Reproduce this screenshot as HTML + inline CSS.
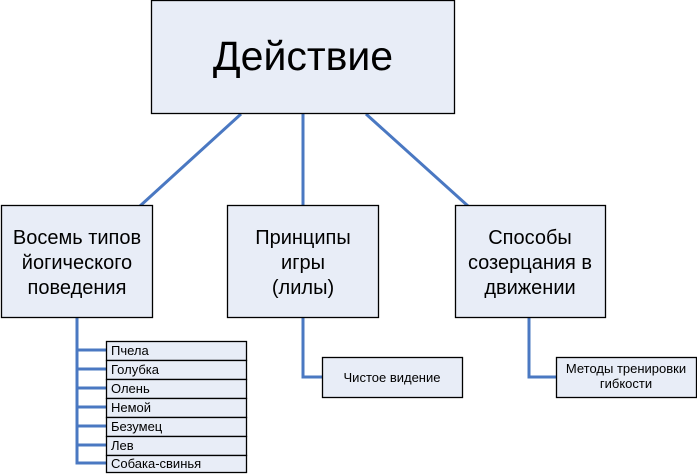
<!DOCTYPE html>
<html><head><meta charset="utf-8"><style>
html,body{margin:0;padding:0;background:#fff;width:697px;height:474px;overflow:hidden}
svg text{font-family:"Liberation Sans",sans-serif;fill:#000}
</style></head><body>
<svg width="697" height="474" viewBox="0 0 697 474" xmlns="http://www.w3.org/2000/svg">
<g stroke="#4a78c2" stroke-width="3" fill="none">
<line x1="241" y1="114" x2="140" y2="206"/>
<line x1="303" y1="114" x2="303" y2="206"/>
<line x1="366" y1="114" x2="468" y2="206"/>
<polyline points="77,318 77,463 107,463"/>
<line x1="77" y1="350" x2="107" y2="350"/>
<line x1="77" y1="369" x2="107" y2="369"/>
<line x1="77" y1="388" x2="107" y2="388"/>
<line x1="77" y1="407" x2="107" y2="407"/>
<line x1="77" y1="426" x2="107" y2="426"/>
<line x1="77" y1="445" x2="107" y2="445"/>
<polyline points="303,318 303,377 323,377"/>
<polyline points="529,318 529,377 556,377"/>
</g>
<g fill="#e8edf7" stroke="#000" stroke-width="1.3">
<rect x="151.5" y="0.5" width="303" height="113"/>
<rect x="1.5" y="205.5" width="151" height="112"/>
<rect x="227.5" y="205.5" width="151" height="112"/>
<rect x="455.5" y="205.5" width="150" height="112"/>
<rect x="106.5" y="341.5" width="140" height="19"/>
<rect x="106.5" y="360.5" width="140" height="19"/>
<rect x="106.5" y="379.5" width="140" height="19"/>
<rect x="106.5" y="398.5" width="140" height="19"/>
<rect x="106.5" y="417.5" width="140" height="19"/>
<rect x="106.5" y="436.5" width="140" height="19"/>
<rect x="106.5" y="455.5" width="140" height="17"/>
<rect x="322.5" y="357.5" width="140" height="40"/>
<rect x="556.5" y="357.5" width="140" height="40"/>
</g>
<text x="303" y="70" font-size="41" text-anchor="middle">Действие</text>
<g font-size="20" text-anchor="middle">
<text x="77" y="244">Восемь типов</text>
<text x="77" y="269">йогического</text>
<text x="77" y="294">поведения</text>
<text x="303" y="244">Принципы</text>
<text x="303" y="269">игры</text>
<text x="303" y="294">(лилы)</text>
<text x="530" y="244">Способы</text>
<text x="530" y="269">созерцания в</text>
<text x="530" y="294">движении</text>
</g>
<g font-size="13">
<text x="111" y="355">Пчела</text>
<text x="111" y="374">Голубка</text>
<text x="111" y="393">Олень</text>
<text x="111" y="412">Немой</text>
<text x="111" y="431">Безумец</text>
<text x="111" y="450">Лев</text>
<text x="111" y="468">Собака-свинья</text>
<text x="392" y="382" text-anchor="middle">Чистое видение</text>
<text x="626" y="373" text-anchor="middle">Методы тренировки</text>
<text x="626" y="388" text-anchor="middle">гибкости</text>
</g>
</svg>
</body></html>
